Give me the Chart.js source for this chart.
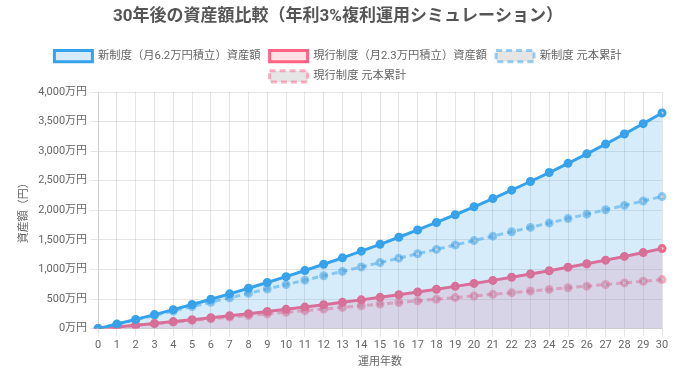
<!DOCTYPE html>
<html lang="ja">
<head>
<meta charset="UTF-8">
<script src="https://cdn.jsdelivr.net/npm/chart.js@4"></script>
<style>
  html, body { margin: 0; padding: 0; background: #fff; }
  #wrap { width: 680px; height: 369px; }
</style>
</head>
<body>
<div id="wrap"><canvas id="assetChart"></canvas></div>
<script>
// 運用年数
const years = [0,1,2,3,4,5,6,7,8,9,10,11,12,13,14,15,16,17,18,19,20,21,22,23,24,25,26,27,28,29,30];

// 資産額（万円）
const newAsset = [0, 76.6, 155.6, 236.9, 320.7, 406.9, 495.8, 587.3, 681.5, 778.5, 878.5,
  981.5, 1087.6, 1196.8, 1309.3, 1425.3, 1544.7, 1667.7, 1794.3, 1924.8, 2059.1,
  2197.5, 2340.1, 2486.9, 2638.2, 2793.9, 2954.4, 3119.7, 3289.9, 3465.2, 3645.8];
const curAsset = [0, 28.4, 57.7, 87.9, 119.0, 150.9, 183.9, 217.9, 252.8, 288.8, 325.9,
  364.1, 403.5, 444.0, 485.7, 528.7, 573.0, 618.6, 665.6, 714.0, 763.9,
  815.2, 868.1, 922.6, 978.7, 1036.5, 1096.0, 1157.3, 1220.4, 1285.5, 1352.5];

// 元本累計（万円）
const newPrincipal = [0, 74.4, 148.8, 223.2, 297.6, 372, 446.4, 520.8, 595.2, 669.6, 744,
  818.4, 892.8, 967.2, 1041.6, 1116, 1190.4, 1264.8, 1339.2, 1413.6, 1488,
  1562.4, 1636.8, 1711.2, 1785.6, 1860, 1934.4, 2008.8, 2083.2, 2157.6, 2232];
const curPrincipal = [0, 27.6, 55.2, 82.8, 110.4, 138, 165.6, 193.2, 220.8, 248.4, 276,
  303.6, 331.2, 358.8, 386.4, 414, 441.6, 469.2, 496.8, 524.4, 552,
  579.6, 607.2, 634.8, 662.4, 690, 717.6, 745.2, 772.8, 800.4, 828];

Chart.defaults.font.family = "Roboto, 'Noto Sans CJK JP', sans-serif";
Chart.defaults.font.size = 11;
Chart.defaults.color = "#666";

const ctx = document.getElementById("assetChart").getContext("2d");
new Chart(ctx, {
  type: "line",
  data: {
    labels: years,
    datasets: [
      {
        label: "新制度（月6.2万円積立）資産額",
        data: newAsset,
        borderColor: "rgb(54, 162, 235)",
        backgroundColor: "rgba(54, 162, 235, 0.2)",
        borderWidth: 3,
        pointRadius: 3,
        fill: "origin"
      },
      {
        label: "現行制度（月2.3万円積立）資産額",
        data: curAsset,
        borderColor: "rgb(255, 99, 132)",
        backgroundColor: "rgba(255, 99, 132, 0.2)",
        borderWidth: 3,
        pointRadius: 3,
        fill: "origin"
      },
      {
        label: "新制度 元本累計",
        data: newPrincipal,
        borderColor: "rgba(54, 162, 235, 0.5)",
        borderWidth: 3,
        borderDash: [6, 4],
        pointRadius: 3,
        fill: false
      },
      {
        label: "現行制度 元本累計",
        data: curPrincipal,
        borderColor: "rgba(255, 99, 132, 0.5)",
        borderWidth: 3,
        borderDash: [6, 4],
        pointRadius: 3,
        fill: false
      }
    ]
  },
  options: {
    responsive: true,
    maintainAspectRatio: false,
    animation: false,
    layout: { padding: { left: 14, right: 18, bottom: 0 } },
    plugins: {
      title: {
        display: true,
        text: "30年後の資産額比較（年利3%複利運用シミュレーション）",
        font: { size: 17, weight: "bold" },
        color: "#555",
        padding: { top: 7, bottom: 14 }
      },
      legend: {
        labels: { font: { size: 11.3 }, padding: 9, boxWidth: 38 }
      }
    },
    scales: {
      x: {
        title: { display: true, text: "運用年数", padding: { top: 2, bottom: 0 } },
        ticks: { maxRotation: 0, autoSkip: false, padding: 2 }
      },
      y: {
        min: 0,
        max: 4000,
        ticks: {
          stepSize: 500,
          callback: v => v.toLocaleString() + "万円"
        },
        title: { display: true, text: "資産額（円）" }
      }
    }
  }
});
</script>
</body>
</html>
